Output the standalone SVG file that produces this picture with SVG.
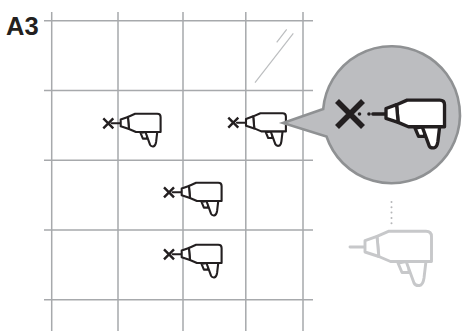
<svg xmlns="http://www.w3.org/2000/svg" xmlns:xlink="http://www.w3.org/1999/xlink" width="468" height="334" viewBox="0 0 468 334">
<style>
.g{stroke:#a7a9ac;stroke-width:1.5;fill:none}
.x{stroke:#231f20;fill:none}
.gun{stroke:#231f20;stroke-width:3.5;stroke-linejoin:round;stroke-linecap:round}
.ghost{stroke:#c7c8ca;stroke-width:2.9;stroke-linejoin:round;stroke-linecap:round}
</style>
<defs>
<g id="gun" fill="#fff">
<path d="M-15,0H0" fill="none"/>
<path d="M33,16 L37,25.5 H44 V14 Z"/>
<path d="M41,14 L49,36 Q50.5,39 54.5,38.5 Q58,38 59,31 L61,14 Z"/>
<path d="M24,-15.8 H61 Q66.5,-15.8 66.5,-10.5 V14.5 H25.5 L13.8,9.5 L12,-10.6 Z"/>
<path d="M0,-6.3 L12,-10.6 L13.8,9.5 L0,5 Z"/>
</g>
<g id="cross"><path d="M-5,-5L5,5M5,-5L-5,5" stroke-width="2.4"/></g>
</defs>
<rect width="468" height="334" fill="#fff"/>
<g id="grid" class="g">
<path d="M51.7,12V331M118,12V331M183,12V331M245.8,12V331M303,12V331"/>
<path d="M44,20.7H313M44,90.5H313M44,160.3H313M44,230H313M44,299.8H313"/>
</g>
<g id="glass" stroke="#bcbec0" stroke-width="1.2" fill="none">
<path d="M255,82.7L293.3,33.3M276.7,42.3L286.7,29.3"/>
</g>
<text id="label" x="6" y="35" font-family="'Liberation Sans',Arial,sans-serif" font-weight="700" font-size="25.5" fill="#231f20">A3</text>
<g id="connectors">
<path d="M391.5,202V225" stroke="#b5b6b8" stroke-width="2" stroke-linecap="round" stroke-dasharray="0 5.3" fill="none"/>
</g>
<g id="drill1"><use href="#cross" class="x" transform="translate(108.3,123.3)"/><use href="#gun" class="gun" transform="translate(120.7,123.3) scale(.6)"/></g>
<g id="drill2"><use href="#cross" class="x" transform="translate(233.3,122.7)"/><use href="#gun" class="gun" transform="translate(246,122.7) scale(.6)"/></g>
<g id="drill3"><use href="#cross" class="x" transform="translate(169,192.3)"/><use href="#gun" class="gun" transform="translate(181.7,192.3) scale(.6)"/></g>
<g id="drill4"><use href="#cross" class="x" transform="translate(169,254.3)"/><use href="#gun" class="gun" transform="translate(181.7,254.3) scale(.6)"/></g>
<g id="callout">
<path d="M283,123 L323.2,109 A68.5,68.5 0 1 1 326.5,136.5 Z" fill="#bcbdc0" stroke="#8f9193" stroke-width="2.6" stroke-linejoin="miter"/>
<path d="M337,101L363,127M363,101L337,127" stroke="#231f20" stroke-width="5.6" fill="none"/>
<circle cx="359.5" cy="114" r="1.8" fill="#231f20"/>
<circle cx="369" cy="114" r="1.8" fill="#231f20"/>
<use href="#gun" class="gun" style="stroke-width:3.8" transform="translate(386,114) scale(.88)"/>
</g>
<g id="ghost-drill"><use href="#gun" class="ghost" transform="translate(365,247)"/></g>
</svg>
